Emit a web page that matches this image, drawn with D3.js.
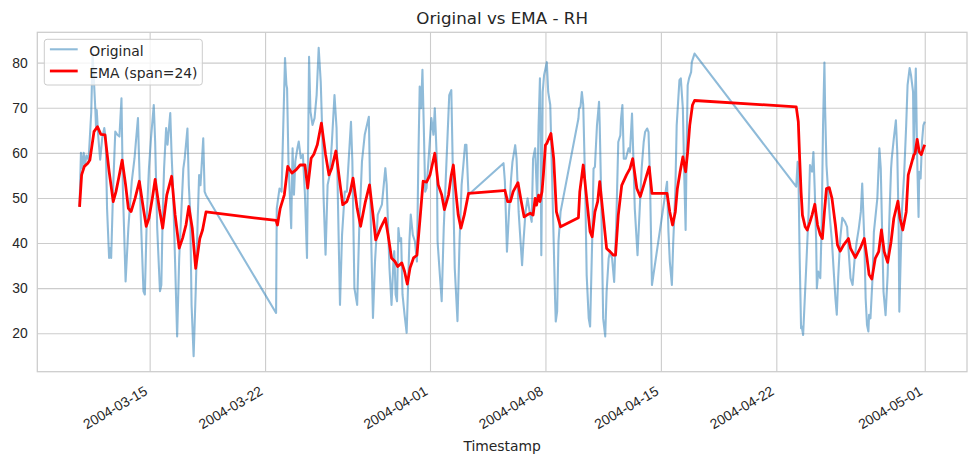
<!DOCTYPE html>
<html>
<head>
<meta charset="utf-8">
<script src="https://cdn.jsdelivr.net/npm/d3@7"></script>
<style>
body { margin: 0; background: #fff; }
svg { display: block; font-family: "DejaVu Sans", sans-serif; }
</style>
</head>
<body>
<svg id="chart" width="977" height="463"></svg>
<script>
// hours after 2004-03-10 18:00, relative humidity
var origHours = [0,2,4,6,8,10,13,14,17,19,23,24,25,27,30,33,36,38,40,43,45,46,49,52,55,58,61,63,67,69,71,73,76,80,82,85,86,89,93,95,98,101,104,108,110,113,117,119,121,123,126,128,132,134,136,139,142,145,149,151,153,157,159,161,163,166,169,172,174,176,180,182,184,
  286,287,291,294,299,301,302,304,308,310,312,314,317,319,322,325,328,331,334,336,339,342,345,348,351,353,355,358,361,364,367,371,374,376,379,382,386,389,393,395,397,400,404,407,411,415,421,423,427,430,434,438,440,445,447,451,454,457,458,460,462,464,466,468,470,473,476,478,480,482,485,488,491,493,495,497,499,501,503,505,508,512,515,517,520,521,525,527,530,534,538,541,543,546,550,553,556,559,561,563,566,
  617,619,622,625,628,630,634,636,639,644,646,649,652,655,658,660,663,666,668,670,671,672,674,676,680,682,685,687,690,692,693,695,697,700,
  726,727,729,731,733,736,738,741,743,746,748,750,753,756,757,759,762,765,767,770,772,775,778,781,784,787,788,790,792,795,799,801,804,806,808,812,815,818,821,823,826,828,830,833,
  855,857,859,862,864,867,869,873,875,878,880,882,884,885,887,890,891,895,
  1043,1045,1046,1048,1050,1051,1053,1057,1061,1063,1066,1068,1070,1072,1073,1075,1078,1080,1082,1084,1085,1087,1090,1092,1095,1097,1100,1102,1104,1107,1110,1114,1117,1120,1122,1125,1128,1131,1134,1137,1139,1142,1144,1146,1148,1149,1151,1154,1156,1159,1161,1164,1166,1168,1170,1173,1176,1179,1181,1182,1185,1188,1190,1192,1193,1195,1197,1200,1203,1205,1208,1210,1213,1214,1216,1217,1219,1221,1222,1224,1226,1228,1230];
var origRH = [48,60,56.6,60,57.3,59.4,58.5,60.7,69,82,69.5,65.5,69.5,64,58.5,63.3,65.5,63.3,47.7,36.7,38.9,36.7,52.9,64.7,64,63.6,72.1,52.2,31.5,37.4,43.3,47.7,53.7,58.8,62.5,67.7,61.8,46.3,29.3,28.6,46.3,56.6,63.3,70.6,62.5,43.3,29.3,30.7,46.3,56.6,65.5,61.8,68.8,59.4,52.2,35.9,19.3,36.6,49.9,56.5,58.7,65.4,52.8,46.9,26.3,14.9,29.2,45.5,55.1,52.8,63.2,51.4,50.6,
  24.5,47.7,52.1,51.4,81,75.1,74.3,58.1,43.3,61,50.7,58.1,61,62.5,58.8,59.6,50.7,36.7,81.3,69.2,66.2,67.7,72.8,83.3,75.7,65.5,50.7,37.4,52.9,55.1,61.8,72.8,65.5,49.3,26.3,41.8,51.4,51.4,61.8,66.9,58.1,30,26.3,43.3,58.1,64,68,50.7,23.4,36,46.3,47.8,48.5,56.6,52.9,34.5,26.3,36.7,38.2,28.6,27.1,43.3,40.4,41.1,28.6,24.1,20.1,30,40.4,46.3,41.8,40.4,35.9,58.1,74.7,69.9,78.4,65.5,51.4,52.2,58.8,67.7,64,69.9,58.1,40.4,31.5,27.1,43.3,58.1,72.8,73.9,58.1,34.5,22.7,40.4,52.9,58.1,61.8,61.8,50.7,
  57.7,53.6,38.1,46.9,54.3,58,61.7,58.7,46.9,35.1,40.3,46.9,49.9,46.9,44.7,58.7,61,49.2,66.1,76.5,63.9,37.3,73.5,77.2,80.1,73.5,70.6,58.7,40.3,27.7,22.6,24.8,40.3,46.9,
  67.6,69.8,70.2,73.5,70.6,51.4,32.9,23.3,21.5,40.3,56.5,56.9,66.1,71.3,66.1,51.4,23.3,19.3,29.2,36.6,38.1,36.6,31.4,44,62.4,63.9,67.6,70.6,58.7,58.7,61,60.2,68.7,58.7,47.7,37.3,46.9,56.5,62.4,64.6,65.4,64.6,55.1,30.7,
  53.6,42.5,35.9,30.7,40.3,51.4,66.1,76.1,76.5,69.8,55.1,42.9,66.1,75,76.5,77.9,80.1,82,
  52.5,58,57.3,36.6,21.1,21.5,19.6,32.9,46.9,57.3,55.8,60.2,51.4,40.3,30,33.7,32.2,44,66.1,80,69.8,57.3,49.9,45.5,40.3,35.1,27.7,24.1,32.2,41,45.6,44.7,43.6,36.6,32.2,30.7,36.6,40.3,43.2,46.9,53.2,41,27.7,21.8,20.4,24.1,23.3,32.2,42.5,46.9,49.9,61,56.5,42.5,29.2,24,32.9,47.7,56.5,58.7,63.2,67.2,60.2,44,24.8,36.6,47.7,55.1,66.1,75,78.8,77.2,73.5,58.7,73.5,78.7,58.7,45.8,55.8,54.3,62.4,66.1,66.9];

var emaHours = [0,3,7,12,15,21,26,31,37,43,49,53,57,62,67,71,75,81,87,92,97,101,106,110,116,121,127,134,139,145,150,155,159,164,169,175,179,184,
  286,288,292,298,303,309,315,321,328,332,337,341,346,352,358,363,367,373,378,383,389,394,398,404,409,416,422,427,431,438,445,449,454,459,463,469,473,477,481,486,491,496,500,505,510,517,522,527,531,537,541,544,547,551,555,560,566,
  617,619,623,627,631,638,642,647,651,656,660,663,665,668,670,673,675,678,680,686,690,694,700,
  726,728,733,738,743,746,750,754,757,762,767,772,777,780,784,789,796,801,805,811,816,821,826,829,833,
  855,859,863,867,870,874,878,882,885,888,892,895,
  1043,1046,1048,1050,1052,1056,1059,1063,1066,1070,1074,1078,1081,1084,1087,1091,1095,1100,1103,1107,1112,1119,1122,1129,1136,1142,1146,1149,1153,1158,1163,1167,1171,1176,1181,1185,1191,1194,1198,1203,1206,1210,1214,1216,1219,1222,1225,1228,1230];
var emaRH = [48,55.1,57,57.7,58.4,64.7,65.8,64.1,64,55.9,49.2,51.4,54.4,58.4,52.9,47.7,47,50,53.7,48.5,43.7,45.5,50,54.1,47.7,43.3,50.7,54.8,46.3,38.9,41.1,44.1,48.1,43.3,34.4,41,42.9,46.9,
  45,44,47.7,50.7,57,55.5,56.2,57.3,57.3,52.2,58.8,59.7,61.8,66.6,59.6,55.1,56.6,60.4,54.4,48.5,49.2,51.4,54.4,47.7,43.7,49.2,52.9,46.3,40.7,43.3,45.5,41.8,36.7,35.9,34.8,35.6,33.7,30.9,34.5,36.7,37.3,46.3,53.7,53.5,55.1,59.9,52.9,50.7,47.4,50.7,55.1,57.3,52.2,46.3,43.3,46.3,51,
  51.6,51.7,49.2,49.2,51.4,53.4,49.9,45.8,46.2,46.6,46.2,49.9,48.4,50.6,49.2,51.4,55.1,61.7,62.1,64.3,58.7,46.9,43.6,
  45.6,51.4,57.3,49.9,42.5,41.4,46.9,49.2,53.6,46.2,38.8,38.1,37.3,37.3,46.2,52.8,55.1,56.5,58.7,52.1,50.3,52.8,55.4,56.9,51,
  51,46.9,44,46.9,52.1,55.8,59.1,55.8,60.2,66.1,70.6,71.6,
  70.2,66.9,58.7,51.4,46.2,43.6,42.9,44.7,46.2,48.6,44,41.8,41,46.9,52.1,52.3,49.9,44,39.6,38.2,39.6,41,38.8,36.8,38.8,41,36.6,33,32,36.6,38.1,42.9,38.1,35.7,40.3,45.5,49.3,45.5,42.9,46.9,55.1,57.3,59.5,59.9,63,60.2,59.6,61,61.8];

var xTickLabels = ["2004-03-15", "2004-03-22", "2004-04-01", "2004-04-08", "2004-04-15", "2004-04-22", "2004-05-01"];
var yTicks = [20, 30, 40, 50, 60, 70, 80];

var start = new Date(2004, 2, 10, 18);
var parseDay = d3.timeParse("%Y-%m-%d");
var ink = "#262626";

var orig = origHours.map(function(h, i) { return { t: d3.timeHour.offset(start, h), v: origRH[i] }; });
var ema = emaHours.map(function(h, i) { return { t: d3.timeHour.offset(start, h), v: emaRH[i] }; });

// plot box (window.top is taken, so no bare "top")
var plotL = 37.3, plotR = 967, plotT = 32.3, plotB = 371.7;

// matplotlib style 5% margins
var tExt = d3.extent(orig, function(d) { return d.t; });
var tPad = (tExt[1] - tExt[0]) * 0.05;
var x = d3.scaleTime()
  .domain([new Date(+tExt[0] - tPad), new Date(+tExt[1] + tPad)])
  .range([plotL, plotR]);

var allV = origRH.concat(emaRH);
var lo = d3.min(allV), hi = d3.max(allV), vPad = (hi - lo) * 0.05;
var y = d3.scaleLinear().domain([lo - vPad, hi + vPad]).range([plotB, plotT]);

var svg = d3.select("#chart");

svg.append("defs").append("clipPath").attr("id", "plotclip")
  .append("rect").attr("x", plotL).attr("y", plotT)
  .attr("width", plotR - plotL).attr("height", plotB - plotT);

// y grid + labels
var gy = svg.append("g")
  .attr("transform", "translate(" + plotL + ",0)")
  .call(d3.axisLeft(y).tickValues(yTicks).tickSize(-(plotR - plotL)).tickPadding(9.7).tickFormat(d3.format("d")));
gy.select(".domain").remove();
gy.selectAll("line").attr("stroke", "#cccccc").attr("stroke-width", 1.1);
gy.selectAll("text").attr("fill", ink).style("font-size", "13.9px");

// x grid + rotated labels
var gx = svg.append("g")
  .attr("transform", "translate(0," + plotB + ")")
  .call(d3.axisBottom(x).tickValues(xTickLabels.map(parseDay)).tickSize(-(plotB - plotT)).tickFormat(d3.timeFormat("%Y-%m-%d")));
gx.select(".domain").remove();
gx.selectAll("line").attr("stroke", "#cccccc").attr("stroke-width", 1.1);
gx.selectAll("text")
  .attr("fill", ink).style("font-size", "13.9px")
  .attr("x", 0).attr("y", 0).attr("dy", null)
  .attr("text-anchor", "end")
  .attr("transform", "translate(-1.8,22.3) rotate(-30)");

// frame
svg.append("rect")
  .attr("x", plotL).attr("y", plotT)
  .attr("width", plotR - plotL).attr("height", plotB - plotT)
  .attr("fill", "none").attr("stroke", "#cccccc").attr("stroke-width", 1.25);

var line = d3.line()
  .x(function(d) { return x(d.t); })
  .y(function(d) { return y(d.v); });

var plot = svg.append("g").attr("clip-path", "url(#plotclip)");

plot.append("path").datum(orig)
  .attr("d", line)
  .attr("fill", "none")
  .attr("stroke", "#1f77b4").attr("stroke-opacity", 0.5)
  .attr("stroke-width", 2.08)
  .attr("stroke-linejoin", "round");

plot.append("path").datum(ema)
  .attr("d", line)
  .attr("fill", "none")
  .attr("stroke", "red")
  .attr("stroke-width", 2.78)
  .attr("stroke-linejoin", "round");

// title and axis label
svg.append("text")
  .attr("x", (plotL + plotR) / 2).attr("y", 24)
  .attr("text-anchor", "middle").attr("fill", ink)
  .style("font-size", "16.7px")
  .text("Original vs EMA - RH");

svg.append("text")
  .attr("x", (plotL + plotR) / 2).attr("y", 451)
  .attr("text-anchor", "middle").attr("fill", ink)
  .style("font-size", "13.9px")
  .text("Timestamp");

// legend
var leg = svg.append("g").attr("transform", "translate(44.3,39.3)");
leg.append("rect")
  .attr("width", 158).attr("height", 45.7).attr("rx", 2.8)
  .attr("fill", "#fff").attr("fill-opacity", 0.8)
  .attr("stroke", "#cccccc").attr("stroke-width", 1);

var legItems = [
  { label: "Original", color: "#1f77b4", opacity: 0.5, width: 2.08 },
  { label: "EMA (span=24)", color: "red", opacity: 1, width: 2.78 }
];
legItems.forEach(function(it, i) {
  var cy = 10 + i * 21.7;
  leg.append("line")
    .attr("x1", 5.6).attr("x2", 33.4).attr("y1", cy).attr("y2", cy)
    .attr("stroke", it.color).attr("stroke-opacity", it.opacity)
    .attr("stroke-width", it.width);
  leg.append("text")
    .attr("x", 45).attr("y", cy + 6.9)
    .attr("fill", ink).style("font-size", "13.9px")
    .text(it.label);
});
</script>
</body>
</html>
